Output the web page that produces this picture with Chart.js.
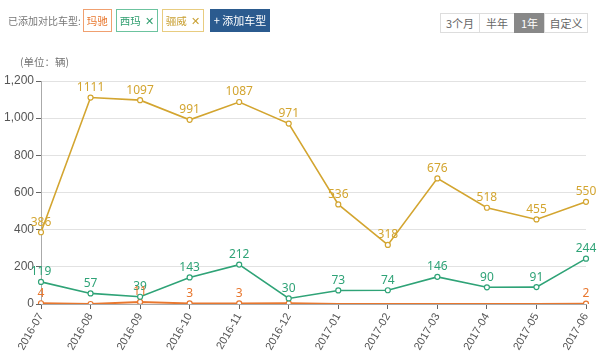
<!DOCTYPE html>
<html>
<head>
<meta charset="utf-8">
<script src="https://cdn.jsdelivr.net/npm/chart.js@4.4.0/dist/chart.umd.min.js"></script>
<style>
  html, body { margin:0; padding:0; background:#fff; }
  body { width:600px; height:354px; position:relative; overflow:hidden; font-family:"Noto Sans CJK SC","Noto Sans",sans-serif; }
  #chartBox { position:absolute; left:0; top:0; width:600px; height:354px; }
  .bar { position:absolute; left:8px; top:8px; height:24px; display:flex; align-items:center; font-size:10px; color:#777; white-space:nowrap; }
  .tag { box-sizing:border-box; height:23px; line-height:21px; padding:0 3px; margin-left:4px; border:1px solid; font-size:10.5px; background:#fff; }
  .tag .x { margin-left:4px; font-size:11px; }
  .add { height:23px; line-height:23px; padding:0 4px; margin-left:6px; background:#2b5b8f; color:#fff; font-size:11px; }
  .range { position:absolute; left:441px; top:13px; display:flex; font-size:11px; color:#666; white-space:nowrap; }
  .range div { box-sizing:border-box; height:20px; line-height:18px; border:1px solid #ddd; margin-left:-1px; text-align:center; background:#fff; }
  .range div.on { background:#888; color:#fff; border-color:#888; }
  .unit { position:absolute; left:20px; top:54px; font-size:10.5px; color:#777; white-space:nowrap; }
</style>
</head>
<body>
<div id="chartBox"><canvas id="c" width="600" height="354"></canvas></div>
<div class="bar">已添加对比车型:
  <span class="tag" style="border-color:#f0a070;color:#e8772e;margin-left:2px">玛驰</span>
  <span class="tag" style="border-color:#6cc39f;color:#2f9e6f">西玛<span class="x">✕</span></span>
  <span class="tag" style="border-color:#e8cc80;color:#c9a032">骊威<span class="x">✕</span></span>
  <span class="add">+ 添加车型</span>
</div>
<div class="range"><div style="width:40px">3个月</div><div style="width:36px">半年</div><div class="on" style="width:31px">1年</div><div style="width:44px">自定义</div></div>
<div class="unit">(单位：辆)</div>
<script>
(function(){
  'use strict';

  var months = ['2016-07','2016-08','2016-09','2016-10','2016-11','2016-12','2017-01','2017-02','2017-03','2017-04','2017-05','2017-06'];
  var march = [4, 0, 11, 3, 3, 4, 0, 0, 0, 0, 0, 2];        // 玛驰
  var sylphy = [119, 57, 39, 143, 212, 30, 73, 74, 146, 90, 91, 244]; // 西玛
  var livina = [386, 1111, 1097, 991, 1087, 971, 536, 318, 676, 518, 455, 550]; // 骊威
  var yTicks = [0, 200, 400, 600, 800, 1000, 1200];

  // which orange labels actually show in the picture
  var marchLabelShown = [true, false, true, true, true, false, false, false, false, false, false, true];

  var cOrange = '#e8772e', cGreen = '#2fa377', cGold = '#d3a530';

  function ds(label, data, color, extra){
    var d = {
      label: label, data: data, borderColor: color, backgroundColor: '#fff',
      borderWidth: 1.6, pointRadius: 2.5, pointBorderWidth: 1.2,
      pointBackgroundColor: '#fff', pointBorderColor: color, tension: 0
    };
    for (var k in extra) d[k] = extra[k];
    return d;
  }

  var valueLabels = {
    id: 'valueLabels',
    afterDatasetsDraw: function(chart){
      var ctx = chart.ctx;
      ctx.save();
      ctx.font = '12px "Noto Sans", sans-serif';
      ctx.textAlign = 'center';
      ctx.textBaseline = 'bottom';
      chart.data.datasets.forEach(function(set, i){
        var meta = chart.getDatasetMeta(i);
        meta.data.forEach(function(pt, j){
          if (set.labelShown && !set.labelShown[j]) return;
          ctx.fillStyle = set.borderColor;
          ctx.fillText(String(set.data[j]), pt.x, pt.y - 4);
        });
      });
      ctx.restore();
    }
  };

  new Chart(document.getElementById('c').getContext('2d'), {
    type: 'line',
    data: {
      labels: months,
      datasets: [
        ds('骊威', livina, cGold, {}),
        ds('西玛', sylphy, cGreen, {}),
        ds('玛驰', march, cOrange, {
          borderWidth: 2,
          labelShown: marchLabelShown,
          pointRadius: march.map(function(v, i){ return (i < 6 || i === 11) ? 2.5 : 0; })
        })
      ]
    },
    options: {
      responsive: false,
      animation: false,
      layout: { padding: { top: 81, right: 14, left: 0, bottom: 0 } },
      plugins: { legend: { display: false }, tooltip: { enabled: false } },
      scales: {
        x: {
          offset: false,
          grid: { drawOnChartArea: false, tickColor: '#666', tickLength: 5 },
          border: { color: '#aaa' },
          ticks: { color: '#555', font: { size: 11 }, minRotation: 60, maxRotation: 60, padding: 2 },
          afterFit: function(s){ s.height = 50; }
        },
        y: {
          min: 0, max: 1200,
          afterBuildTicks: function(s){ s.ticks = yTicks.map(function(v){ return { value: v }; }); },
          grid: { color: '#e2e2e2', tickColor: '#666', tickLength: 5 },
          border: { color: '#aaa' },
          ticks: {
            color: '#555', font: { size: 12 }, padding: 2,
            callback: function(v){ return v.toLocaleString('en-US'); }
          },
          afterFit: function(s){ s.width = 41; }
        }
      }
    },
    plugins: [valueLabels]
  });
})();
</script>
</body>
</html>
